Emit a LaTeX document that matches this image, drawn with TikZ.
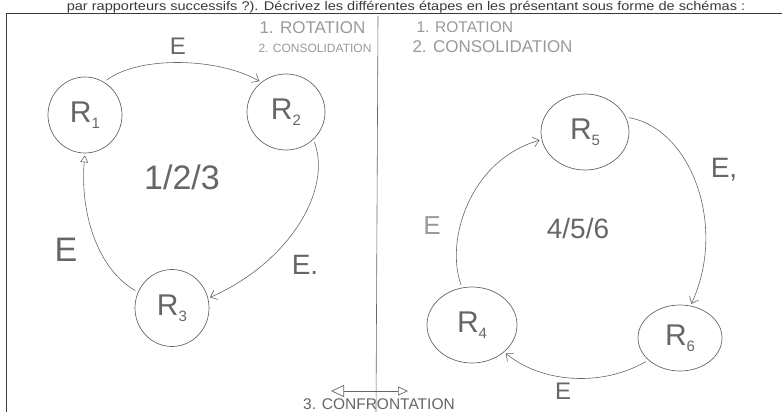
\documentclass[tikz,border=0pt]{standalone}
\usepackage{fontspec}
\setmainfont{Liberation Sans}
\usetikzlibrary{positioning,arrows.meta,shapes.geometric}
\definecolor{pencil}{HTML}{666666}
\definecolor{pencillight}{HTML}{999999}
\definecolor{inkframe}{HTML}{3A3A3A}
\newcommand{\rlab}[1]{R\raisebox{-6pt}{\fontsize{15}{15}\selectfont #1}}

\begin{document}
\begin{tikzpicture}[x=1pt,y=-1pt,
  ring/.style={ellipse,draw=pencil,line width=0.7pt,inner sep=0pt,text=pencil,font=\fontsize{30}{30}\selectfont},
  edge/.style={draw=pencil,line width=0.6pt,shorten <=3pt,shorten >=2pt,-{Straight Barb[length=6pt,width=10pt]}},
  elab/.style={text=pencil,font=\fontsize{28}{28}\selectfont},
  phase/.style={text=pencillight,anchor=west},
  tally/.style={text=pencil,font=\fontsize{28}{28}\selectfont}
]
\useasboundingbox (0,0) rectangle (782,412);
\clip (0,0) rectangle (782,412);

% question text at the top of the page
\node[anchor=base,text=inkframe,inner sep=0pt,font=\fontsize{14}{14}\selectfont] (head) at (406,10.5)
  {\scalebox{1.04}[0.9]{par rapporteurs successifs ?). Décrivez les différentes étapes en les présentant sous forme de schémas :}};
\draw[inkframe,line width=1pt] (6,412) -- (6,14) -- (782,14);
\draw[pencil,line width=0.6pt] (378,16) -- (376,412);

% phases
\node[phase,font=\fontsize{17}{17}\selectfont] (rotl) at (256,28) {1. ROTATION};
\node[phase,font=\fontsize{12}{12}\selectfont] (conl) at (255,48) {2. CONSOLIDATION};
\node[phase,font=\fontsize{15.5}{15.5}\selectfont] (rotr) at (413,27) {1. ROTATION};
\node[phase,font=\fontsize{17}{17}\selectfont] (conr) at (409,47) {2. CONSOLIDATION};

% first group
\node[ring,minimum width=74pt,minimum height=76pt] (r1) at (85,115) {\rlab{1}};
\node[ring,minimum width=78pt,minimum height=76pt] (r2) at (286,112) {\rlab{2}};
\node[ring,minimum width=74pt,minimum height=77pt] (r3) at (172,308) {\rlab{3}};
\node[tally,font=\fontsize{34}{34}\selectfont] (g1) at (182,177) {1/2/3};

\draw[edge] (r1.60) .. controls (140,55) and (220,58) .. (r2.130);
\draw[edge] (r2.-45) .. controls (332,190) and (290,262) .. (r3.15);
\draw[edge,-{Triangle[open,length=7pt,width=8pt]}] (r3.155) .. controls (96,268) and (80,210) .. (r1.-90);
\node[elab,font=\fontsize{24}{24}\selectfont] (e12) at (178,46) {E};
\node[elab] (e23) at (305,265) {E.};
\node[elab,font=\fontsize{34}{34}\selectfont] (e31) at (66,250) {E};

% second group
\node[ring,minimum width=88pt,minimum height=76pt] (r5) at (585,132) {\rlab{5}};
\node[ring,minimum width=90pt,minimum height=76pt] (r4) at (472,325) {\rlab{4}};
\node[ring,minimum width=84pt,minimum height=66pt] (r6) at (680,338) {\rlab{6}};
\node[tally] (g2) at (578,228) {4/5/6};

\draw[edge] (r4.105) .. controls (445,240) and (470,160) .. (r5.190);
\draw[edge] (r5.20) .. controls (690,128) and (728,225) .. (r6.72);
\draw[edge] (r6.215) .. controls (600,388) and (540,382) .. (r4.-40);
\node[elab,text=pencillight,font=\fontsize{26}{26}\selectfont] (e45) at (432,226) {E};
\node[elab] (e56) at (724,170) {E,};
\node[elab,font=\fontsize{24}{24}\selectfont] (e64) at (563,391) {E};

% confrontation
\coordinate (cl) at (331,391);
\coordinate (cr) at (408,391);
\draw[pencil,line width=0.7pt,{Triangle[open,length=13pt,width=12pt]}-{Triangle[open,length=10pt,width=9pt]}] (cl) -- (cr);
\node[text=pencil,anchor=base west,inner sep=0pt,font=\fontsize{15.5}{15.5}\selectfont] (conf) at (303,409) {3. CONFRONTATION};
\end{tikzpicture}
\end{document}
